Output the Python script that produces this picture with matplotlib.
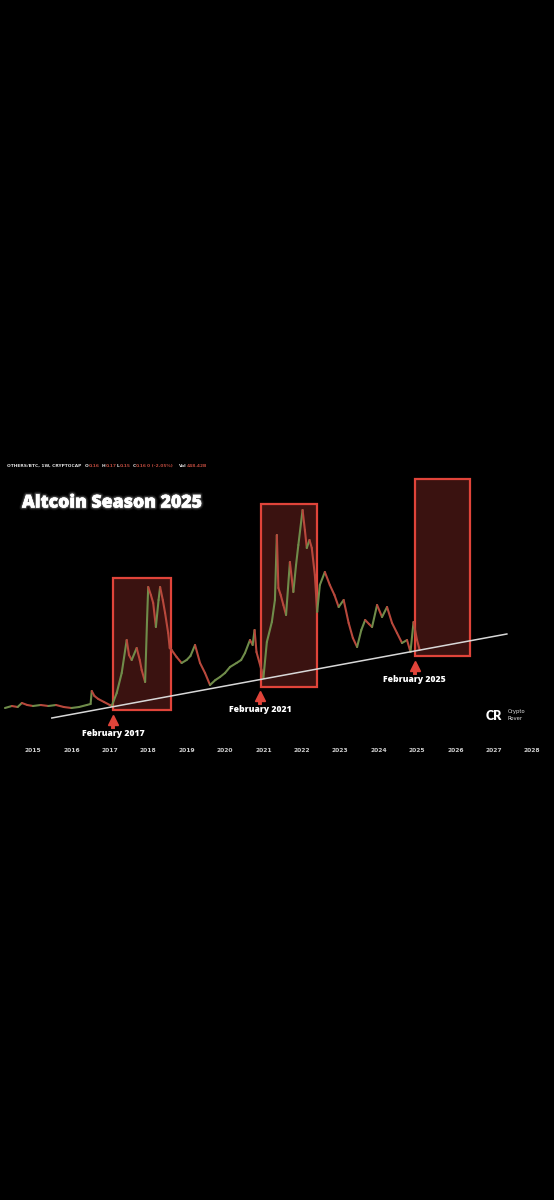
import matplotlib
matplotlib.use('Agg')
import matplotlib.pyplot as plt
import matplotlib.patheffects as pe
from matplotlib.patches import FancyBboxPatch

# weekly OTHERS/BTC (price index, arbitrary units)
dates = [2014.27, 2014.45, 2014.6, 2014.71, 2014.85, 2015.0, 2015.2, 2015.4, 2015.6, 2015.8,
         2016.0, 2016.2, 2016.4, 2016.5, 2016.53, 2016.6, 2016.7, 2016.85, 2017.0, 2017.05,
         2017.18, 2017.31, 2017.44, 2017.5, 2017.57, 2017.7, 2017.78, 2017.83, 2017.92, 2017.97,
         2018.0, 2018.07, 2018.13, 2018.2, 2018.27, 2018.31, 2018.38, 2018.44, 2018.52, 2018.56,
         2018.61, 2018.74, 2018.87, 2019.0, 2019.1, 2019.22, 2019.35, 2019.48, 2019.61, 2019.75,
         2019.87, 2020.0, 2020.13, 2020.3, 2020.42, 2020.52, 2020.65, 2020.72, 2020.77, 2020.82,
         2020.95, 2021.0, 2021.09, 2021.22, 2021.3, 2021.35, 2021.39, 2021.45, 2021.52, 2021.59,
         2021.69, 2021.78, 2021.85, 2021.91, 2022.02, 2022.08, 2022.13, 2022.2, 2022.26, 2022.34,
         2022.4, 2022.47, 2022.6, 2022.73, 2022.85, 2022.96, 2023.09, 2023.22, 2023.33, 2023.44,
         2023.55, 2023.65, 2023.75, 2023.83, 2023.96, 2024.09, 2024.22, 2024.35, 2024.48, 2024.61,
         2024.74, 2024.83, 2024.91, 2025.0, 2025.07]
price = [52, 54, 53, 57, 55, 54, 55, 54, 55, 53,
         52, 53, 55, 56, 69, 64, 61, 58, 55, 54,
         67, 87, 120, 105, 100, 112, 100, 90, 78, 140,
         173, 165, 157, 133, 160, 173, 160, 147, 127, 112,
         110, 103, 97, 100, 104, 115, 97, 87, 75, 80,
         83, 87, 93, 97, 100, 107, 120, 115, 130, 108,
         90, 82, 118, 138, 160, 225, 172, 165, 155, 145,
         198, 168, 195, 215, 250, 230, 212, 220, 212, 185,
         148, 175, 188, 175, 165, 153, 160, 137, 122, 113,
         130, 140, 136, 133, 155, 143, 153, 137, 127, 117,
         120, 108, 138, 120, 110]

years = list(range(2015, 2029))

# altseason boxes: start, end, low, high
box_start = [2017.09, 2020.94, 2024.96]
box_end = [2018.585, 2022.39, 2026.39]
box_low = [50, 73, 104]
box_high = [182, 256, 281]

labels = ['February 2017', 'February 2021', 'February 2025']
arrow_x = [2017.08, 2020.91, 2024.94]
arrow_y = [42, 66, 96]

trend_x = [2015.49, 2027.34]
trend_y = [42, 126]

RED = '#e0443a'
UP = '#6f8c4a'
DOWN = '#b8483c'


def px(x):
    # pixel column -> year
    return 2015 + (x - 33) / 38.4


def main():
    fig = plt.figure(figsize=(5.54, 12), dpi=100)
    fig.patch.set_facecolor('black')
    ax = fig.add_axes([0, 0, 1, 1])
    ax.set_facecolor('black')
    ax.set_xlim(px(0), px(554))
    ax.set_ylim(-440, 760)
    ax.axis('off')

    for s, e, lo, hi in zip(box_start, box_end, box_low, box_high):
        r = FancyBboxPatch((s, lo), e - s, hi - lo, boxstyle='square,pad=0',
                           facecolor='#3a1210', edgecolor=RED, lw=1.6, zorder=1)
        ax.add_patch(r)

    for i in range(len(dates) - 1):
        c = UP if price[i + 1] >= price[i] else DOWN
        ax.plot(dates[i:i + 2], price[i:i + 2], color=c, lw=1.5,
                solid_capstyle='round', zorder=2)

    ax.plot(trend_x, trend_y, color='#d8d8d8', lw=1.1, zorder=3)

    for x, y, lab in zip(arrow_x, arrow_y, labels):
        ax.plot([x, x], [y - 9, y - 3], color=RED, lw=2.8, zorder=4)
        ax.plot([x], [y - 2], marker='^', ms=6.5, color=RED, mec=RED, zorder=4)
        ax.text(x, y - 15, lab, color='white', fontsize=6.2, fontweight='heavy',
                family='Open Sans', ha='center', va='center', zorder=4)

    for yr in years:
        ax.text(yr, 9, str(yr), color='#cfcfcf', fontsize=4.3, fontweight='bold',
                ha='center', va='center')

    glow = [pe.Stroke(linewidth=4, foreground=(1, 1, 1, 0.06)),
            pe.Stroke(linewidth=2.5, foreground=(1, 1, 1, 0.12)),
            pe.Stroke(linewidth=1.2, foreground=(1, 1, 1, 0.25)),
            pe.Normal()]
    fig.text(22 / 554, 1 - 503 / 1200, 'Altcoin Season 2025', color='white',
             fontsize=12.7, fontweight='heavy', family='Open Sans', va='center',
             path_effects=glow)

    # header line
    hy = 1 - 466 / 1200
    parts = [(7, 'OTHERS/BTC, 1W, CRYPTOCAP', '#e0e0e0'), (85, 'O', '#e0e0e0'),
             (89, '0.16', DOWN), (101.5, 'H', '#e0e0e0'), (105.5, '0.17', DOWN),
             (116.5, 'L', '#e0e0e0'), (120, '0.15', DOWN), (132.5, 'C', '#e0e0e0'),
             (136, '0.16', DOWN), (147, '0 (-2.05%)', DOWN), (178.5, 'Vol', '#e0e0e0'),
             (187, '448.42B', DOWN)]
    for x, t, c in parts:
        fig.text(x / 554, hy, t, color=c, fontsize=3.2, fontweight='bold',
                 va='center')

    # logo
    fig.text(486 / 554, 1 - 716 / 1200, 'CR', color='white', fontsize=9,
             fontweight='heavy', family='Lato', va='center')
    fig.text(508 / 554, 1 - 712 / 1200, 'Crypto', color='#dddddd', fontsize=3.8,
             va='center')
    fig.text(508 / 554, 1 - 719 / 1200, 'Rover', color='#dddddd', fontsize=3.8,
             va='center')

    fig.savefig('out.png', dpi=100, facecolor='black')


if __name__ == "__main__":
    main()
